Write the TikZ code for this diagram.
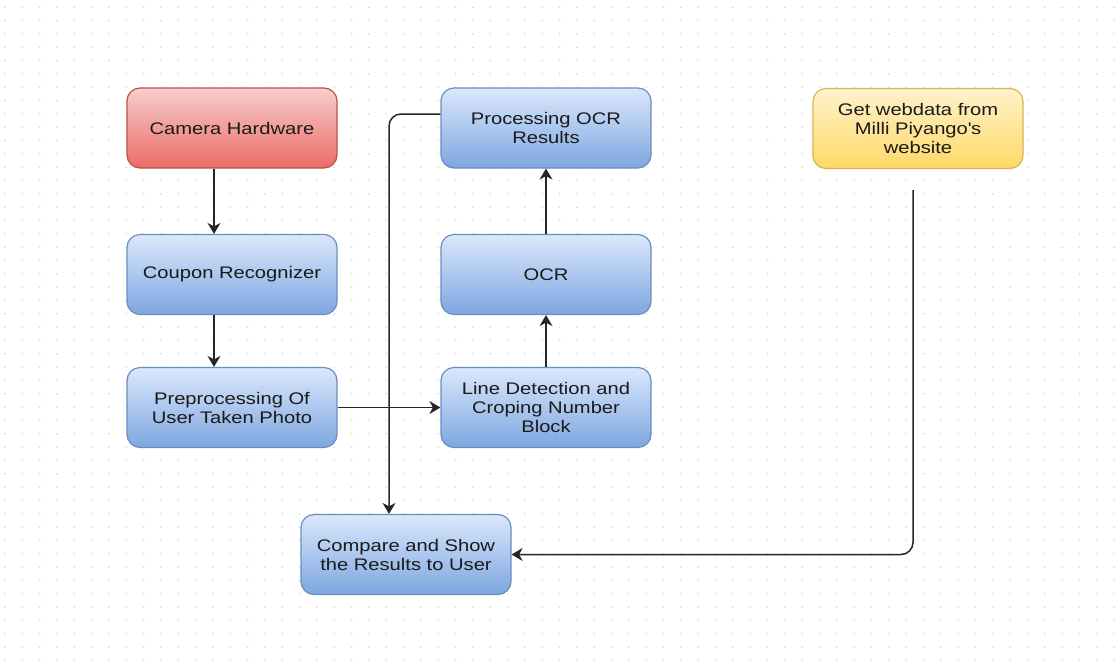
\documentclass[tikz,border=0pt]{standalone}
\usepackage{fontspec}
\setmainfont{Liberation Sans}[FakeStretch=1.2]
\usetikzlibrary{arrows.meta}
\definecolor{bluetop}{HTML}{DAE8FC}
\definecolor{bluebot}{HTML}{7EA6E0}
\definecolor{blueline}{HTML}{6C8EBF}
\definecolor{redtop}{HTML}{F8CECC}
\definecolor{redbot}{HTML}{EA6B66}
\definecolor{redline}{HTML}{B85450}
\definecolor{yeltop}{HTML}{FFF2CC}
\definecolor{yelbot}{HTML}{FFD966}
\definecolor{yelline}{HTML}{D6B656}
\definecolor{dotgray}{HTML}{D9D9D9}
\definecolor{txtgray}{HTML}{1A1A1A}

\begin{document}
\begin{tikzpicture}[x=1pt, y=-1pt,
    box/.style={rounded corners=13pt, line width=1.2pt, minimum width=210pt,
      minimum height=80pt, align=center, text=txtgray,
      font=\fontsize{16.8}{19}\selectfont},
    bluebox/.style={box, draw=blueline, top color=bluetop, bottom color=bluebot},
    redbox/.style={box, draw=redline, top color=redtop, bottom color=redbot},
    yelbox/.style={box, draw=yelline, top color=yeltop, bottom color=yelbot},
    arr/.style={line width=1.5pt, draw=black!85,
      -{Stealth[length=11pt, width=13pt, inset=3.5pt]}}]
    \fill [white] (0,0) rectangle (1116,662) ;
    \useasboundingbox (0,0) rectangle (1116,662) ;
    \foreach \j in {0,...,49} {
      \fill [dotgray] \foreach \i in {0,...,64} { (5+17.33*\i, 7.3+13.33*\j) circle (0.9pt) } ;
    }
    \node [redbox] (cam) at (232,128) {Camera Hardware} ;
    \node [bluebox] (coupon) at (232,274.5) {Coupon Recognizer} ;
    \node [bluebox] (prep) at (232,407.5) {Preprocessing Of\\User Taken Photo} ;
    \node [bluebox] (linedet) at (546,407.5) {Line Detection and\\Croping Number\\Block} ;
    \node [bluebox] (ocr) at (546,274.5) {OCR} ;
    \node [bluebox] (prococr) at (546,128) {Processing OCR\\Results} ;
    \node [yelbox] (webdata) at (918,128.5) {Get webdata from\\Milli Piyango\textquotesingle s\\website} ;
    \node [bluebox] (compare) at (406,554.5) {Compare and Show\\the Results to User} ;
    \coordinate (webend) at (913,190) ;
    \draw [arr] ([xshift=-18pt]cam.south) -- ([xshift=-18pt]coupon.north) ;
    \draw [arr] ([xshift=-18pt]coupon.south) -- ([xshift=-18pt]prep.north) ;
    \draw [arr] (prep.east) -- (linedet.west) ;
    \draw [arr] (linedet.north) -- (ocr.south) ;
    \draw [arr] (ocr.north) -- (prococr.south) ;
    \draw [arr, rounded corners=12pt] ([yshift=14pt]prococr.west) -| ([xshift=-17pt]compare.north) ;
    \draw [arr, rounded corners=12pt] (webend) |- (compare.east) ;
  \end{tikzpicture}
\end{document}
